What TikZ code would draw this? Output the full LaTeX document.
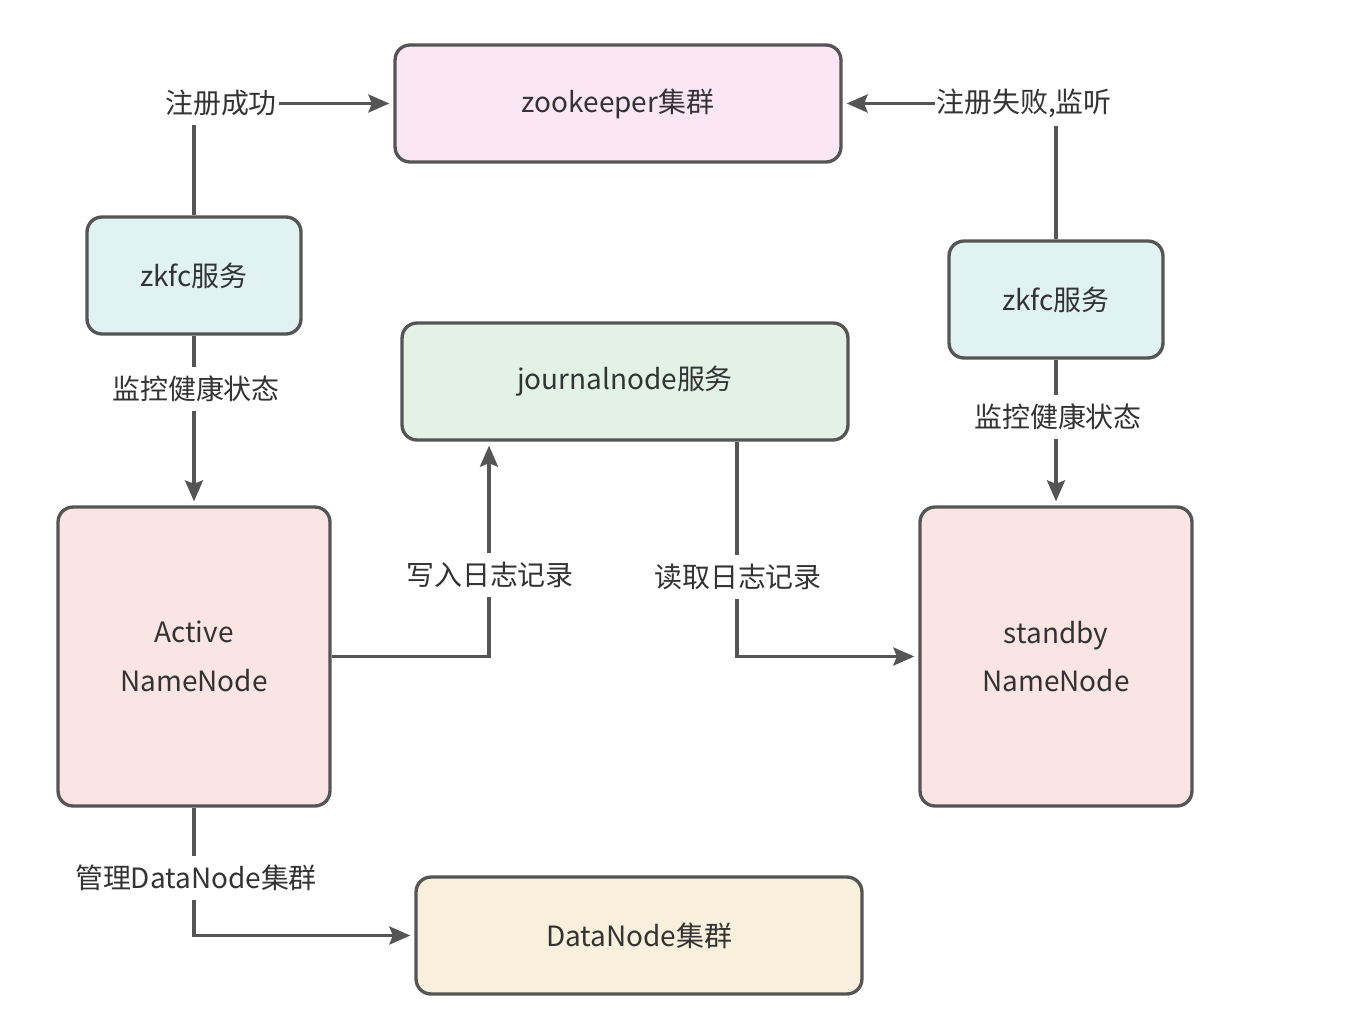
\documentclass[tikz,border=0pt]{standalone}
\usepackage{fontspec}
\setmainfont{Noto Sans CJK SC}
\usetikzlibrary{arrows.meta,calc}
\definecolor{ln}{HTML}{555555}
\definecolor{tx}{HTML}{333333}
\definecolor{czk}{HTML}{FBE6F6}
\definecolor{cfc}{HTML}{E1F2F2}
\definecolor{cjn}{HTML}{E2F2E6}
\definecolor{cnn}{HTML}{FAE4E4}
\definecolor{cdn}{HTML}{F8EFDC}
\tikzset{
  box/.style={draw=ln, line width=1.9pt, rounded corners=0.3cm, text=tx,
    font=\fontsize{15.9}{27.8}\selectfont, align=center, inner sep=0pt},
  wide/.style={box, minimum width=8.92cm, minimum height=2.34cm},
  small/.style={box, minimum width=4.28cm, minimum height=2.34cm},
  tall/.style={box, minimum width=5.44cm, minimum height=5.98cm},
  conn/.style={draw=ln, line width=1.9pt, -{Stealth[length=0.42cm, width=0.36cm, inset=0.07cm]}, shorten >=0.08cm},
  lbl/.style={fill=white, text=tx, font=\fontsize{15.9}{19}\selectfont, inner xsep=1pt, inner ysep=5pt}
}
\begin{document}
\begin{tikzpicture}[x=0.02cm, y=-0.02cm]
\useasboundingbox (0,0) rectangle (1371,1017);
\node[wide, fill=czk] (zk) at (618,103.5) {zookeeper集群};
\node[small, fill=cfc] (fcl) at (194,275.5) {zkfc服务};
\node[small, fill=cfc] (fcr) at (1056,299.5) {zkfc服务};
\node[wide, fill=cjn] (jn) at (625,381.5) {journalnode服务};
\node[tall, fill=cnn] (an) at (194,656.5) {Active\\NameNode};
\node[tall, fill=cnn] (sn) at (1056,656.5) {standby\\NameNode};
\node[wide, fill=cdn] (dn) at (639,935.5) {DataNode集群};

\draw[conn] (fcl.north) |- (zk.west);
\draw[conn] (fcr.north) |- (zk.east);
\draw[conn] (fcl.south) -- (an.north);
\draw[conn] (fcr.south) -- (sn.north);
\draw[conn] (an.east) -| ($(jn.south)+(-136,0)$);
\draw[conn] ($(jn.south)+(112,0)$) |- (sn.west);
\draw[conn] (an.south) |- (dn.west);

\node[lbl] (l1) at (221,103) {注册成功};
\node[lbl] (l2) at (1024,103) {注册失败,监听};
\node[lbl] (l3) at (196,389) {监控健康状态};
\node[lbl] (l4) at (1058,417) {监控健康状态};
\node[lbl] (l5) at (490,575) {写入日志记录};
\node[lbl] (l6) at (738,577) {读取日志记录};
\node[lbl] (l7) at (196,878) {管理DataNode集群};
\end{tikzpicture}
\end{document}
